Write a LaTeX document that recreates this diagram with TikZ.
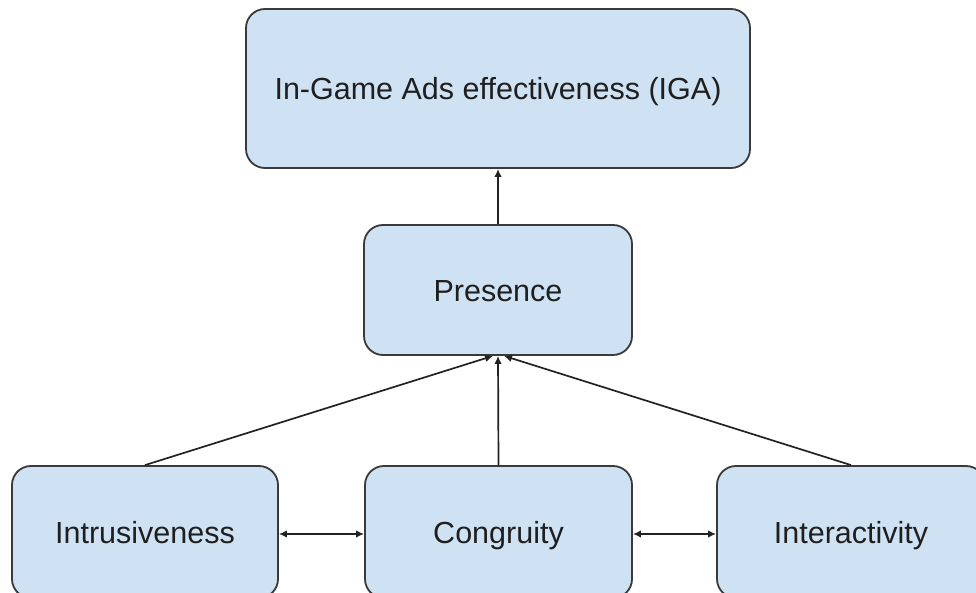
\documentclass[tikz,border=0pt]{standalone}
\usepackage{fontspec}
\setmainfont{Liberation Sans}
\usetikzlibrary{arrows.meta}
\definecolor{boxfill}{HTML}{CFE2F3}
\definecolor{boxline}{HTML}{3A3A3A}
\definecolor{linkline}{HTML}{222222}
\tikzset{
  box/.style={draw=boxline, fill=boxfill, line width=1.8pt, rounded corners=19pt,
    inner sep=0pt, text height=26pt, text depth=3pt,
    font=\fontsize{30.5}{34}\selectfont, text=black!88},
  link/.style={draw=linkline, line width=1.7pt, -{Latex[length=8pt,width=7.5pt]}},
  dlink/.style={draw=linkline, line width=1.7pt, {Latex[length=8pt,width=7.5pt]}-{Latex[length=8pt,width=7.5pt]}}
}
\begin{document}
\begin{tikzpicture}[x=1pt,y=-1pt]
  \useasboundingbox (0,0) rectangle (976,593);
  \clip (0,0) rectangle (976,593);
  \node[box, minimum width=504pt, minimum height=159pt] (iga) at (498,88.5) {In-Game Ads effectiveness (IGA)};
  \node[box, minimum width=268pt, minimum height=130pt] (pres) at (498,290) {Presence};
  \node[box, minimum width=266pt, minimum height=132pt] (intr) at (145,532) {Intrusiveness};
  \node[box, minimum width=267pt, minimum height=132pt] (cong) at (498.5,532) {Congruity};
  \node[box, minimum width=268pt, minimum height=132pt] (inter) at (851,532) {Interactivity};
  \draw[link] (pres.north) -- (iga.south);
  \draw[link] (cong.north) -- (pres.south);
  \draw[link] (intr.north) -- ([xshift=-5pt]pres.south);
  \draw[link] (inter.north) -- ([xshift=6pt]pres.south);
  \draw[dlink] ([yshift=-2pt]intr.east) -- ([yshift=-2pt]cong.west);
  \draw[dlink] ([yshift=-2pt]cong.east) -- ([yshift=-2pt]inter.west);
\end{tikzpicture}
\end{document}
